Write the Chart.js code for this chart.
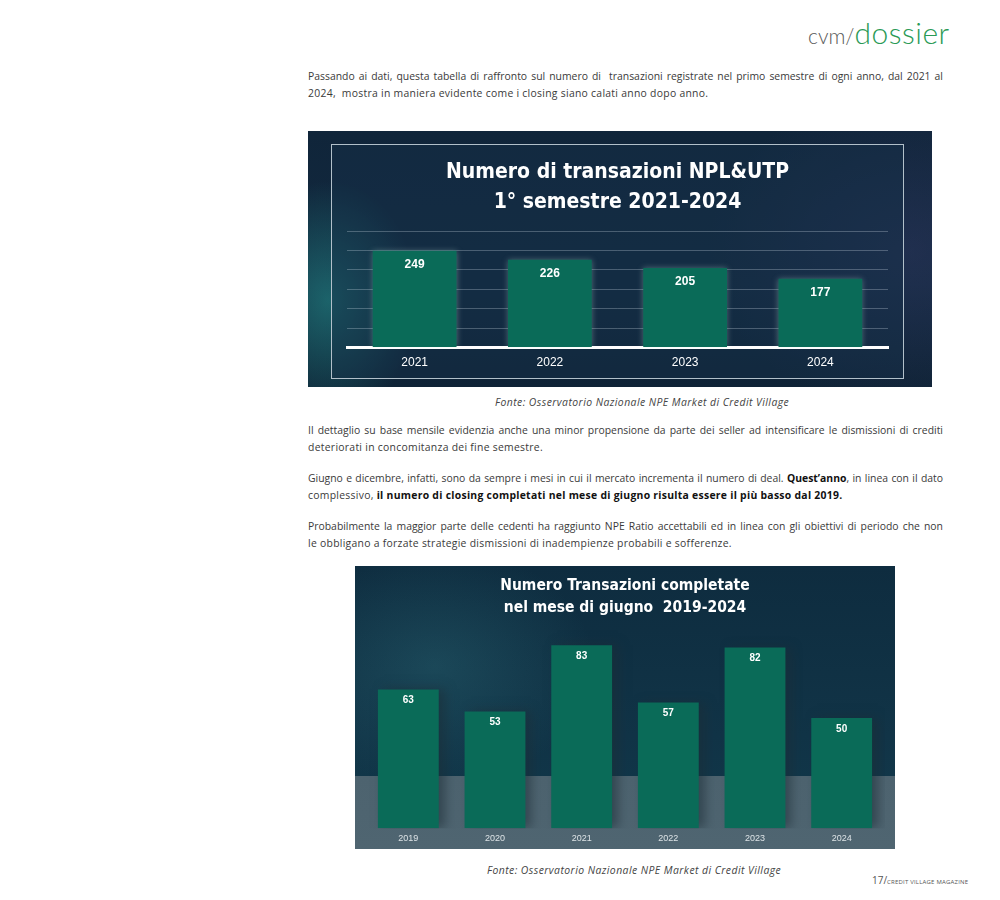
<!DOCTYPE html>
<html>
<head>
<meta charset="utf-8">
<script src="https://cdn.jsdelivr.net/npm/chart.js@4.4.1/dist/chart.umd.min.js"></script>
<style>
  body { margin: 0; background: #fff; width: 1000px; height: 900px; position: relative; overflow: hidden;
         font-family: "Open Sans", Lato, sans-serif; color: #3a3a3a; }
  .abs { position: absolute; }
  .logo { left: 808px; top: 14px; white-space: nowrap; font-family: Lato, sans-serif; }
  .logo .a { font-size: 21px; color: #5a5a5a; font-weight: 300; }
  .logo .b { font-size: 30px; color: #2a9a55; font-weight: 300; letter-spacing: 0.5px; }
  .para { left: 308px; width: 635px; font-size: 10.4px; line-height: 16.5px; }
  .para span { display: block; white-space: nowrap; letter-spacing: 0.28px; }
  .para span.j { text-align: justify; text-align-last: justify; white-space: normal; letter-spacing: 0; }
  .para b { font-weight: 700; color: #111; }
  .cap { font-size: 10.4px; font-style: italic; color: #444; white-space: nowrap; letter-spacing: 0.45px; }
  #box1 { left: 308px; top: 131px; width: 624px; height: 256px;
          background:
            radial-gradient(ellipse 90px 120px at 20px 170px, rgba(40,170,160,0.45), rgba(40,170,160,0) 100%),
            radial-gradient(ellipse 200px 160px at 600px 120px, rgba(60,60,110,0.35), rgba(60,60,110,0) 100%),
            linear-gradient(180deg, #10253a 0%, #12293f 60%, #0f2336 100%); }
  #inner1 { left: 23px; top: 13px; width: 571px; height: 233px; border: 1px solid #b2c0ca;
            background: rgba(22,48,74,0.45); }
  #box2 { left: 355px; top: 566px; width: 540px; height: 283px;
          background:
            linear-gradient(180deg, rgba(0,0,0,0) 0px, rgba(0,0,0,0) 210px, #4d636f 210px, #4f6571 283px),
            radial-gradient(ellipse 160px 120px at 80px 100px, rgba(60,140,150,0.25), rgba(60,140,150,0) 100%),
            linear-gradient(180deg, #0e2c3f 0%, #113447 60%, #123a4c 100%); }
  canvas { position: absolute; left: 0; top: 0; }
  .foot { left: 872px; top: 867px; white-space: nowrap; color: #555; }
  .foot .n { font-size: 10px; }
  .foot .m { font-size: 6px; letter-spacing: 0.2px; }
</style>
</head>
<body>
<div class="abs logo"><span class="a">cvm/</span><span class="b">dossier</span></div>

<div class="abs para" style="top:68px">
  <span class="j">Passando ai dati, questa tabella di raffronto sul numero di&nbsp; transazioni registrate nel primo semestre di ogni anno, dal 2021 al</span>
  <span>2024,&nbsp; mostra in maniera evidente come i closing siano calati anno dopo anno.</span>
</div>

<div class="abs" id="box1">
  <div class="abs" id="inner1"></div>
  <canvas id="chart1" width="624" height="256"></canvas>
</div>

<div class="abs cap" style="left:495px; top:395px">Fonte: Osservatorio Nazionale NPE Market di Credit Village</div>

<div class="abs para" style="top:422px">
  <span class="j">Il dettaglio su base mensile evidenzia anche una minor propensione da parte dei seller ad intensificare le dismissioni di crediti</span>
  <span>deteriorati in concomitanza dei fine semestre.</span>
</div>

<div class="abs para" style="top:470px">
  <span class="j">Giugno e dicembre, infatti, sono da sempre i mesi in cui il mercato incrementa il numero di deal. <b>Quest’anno</b>, in linea con il dato</span>
  <span>complessivo, <b>il numero di closing completati nel mese di giugno risulta essere il più basso dal 2019.</b></span>
</div>

<div class="abs para" style="top:518px">
  <span class="j">Probabilmente la maggior parte delle cedenti ha raggiunto NPE Ratio accettabili ed in linea con gli obiettivi di periodo che non</span>
  <span>le obbligano a forzate strategie dismissioni di inadempienze probabili e sofferenze.</span>
</div>

<div class="abs" id="box2">
  <canvas id="chart2" width="540" height="283"></canvas>
</div>

<div class="abs cap" style="left:487px; top:863px">Fonte: Osservatorio Nazionale NPE Market di Credit Village</div>
<div class="abs foot"><span class="n">17/</span><span class="m">CREDIT VILLAGE MAGAZINE</span></div>

<script>
// data
const semYears = ['2021', '2022', '2023', '2024'];
const semValues = [249, 226, 205, 177];
const semTitle = ['Numero di transazioni NPL&UTP', '1° semestre 2021-2024'];

const juneYears = ['2019', '2020', '2021', '2022', '2023', '2024'];
const juneValues = [63, 53, 83, 57, 82, 50];
const juneTitle = ['Numero Transazioni completate', 'nel mese di giugno  2019-2024'];

const barColor = '#0a6b58';
const narrow = "'DejaVu Sans', sans-serif";

// value written inside each bar, near its top
const valueLabels = {
    id: 'valueLabels',
    afterDatasetsDraw(chart, args, opts) {
        const ctx = chart.ctx;
        const meta = chart.getDatasetMeta(0);
        ctx.save();
        ctx.fillStyle = '#ffffff';
        ctx.font = 'bold ' + opts.size + 'px "Liberation Sans", Arial, sans-serif';
        ctx.textAlign = 'center';
        ctx.textBaseline = 'middle';
        meta.data.forEach(function (bar, i) {
            ctx.fillText(chart.data.datasets[0].data[i], bar.x, bar.y + opts.offset);
        });
        ctx.restore();
    }
};

// soft glow around bars
const barGlow = {
    id: 'barGlow',
    beforeDatasetsDraw(chart, args, opts) {
        chart.ctx.save();
        chart.ctx.shadowColor = opts.color;
        chart.ctx.shadowBlur = opts.blur;
        chart.ctx.shadowOffsetX = opts.dx || 0;
    },
    afterDatasetsDraw(chart) {
        chart.ctx.restore();
    }
};

new Chart(document.getElementById('chart1'), {
    type: 'bar',
    data: {
        labels: semYears,
        datasets: [{
            data: semValues,
            backgroundColor: barColor,
            barPercentage: 0.7,
            categoryPercentage: 0.885
        }]
    },
    options: {
        responsive: false,
        animation: false,
        layout: { padding: { left: 39, right: 44, top: 0, bottom: 9 } },
        plugins: {
            legend: { display: false },
            tooltip: { enabled: false },
            title: {
                display: true,
                text: semTitle,
                color: '#ffffff',
                font: { family: narrow, size: 21, weight: 'bold condensed', lineHeight: 1.43 },
                padding: { top: 27, bottom: 13 }
            },
            valueLabels: { size: 12, offset: 14 },
            barGlow: { color: 'rgba(200,230,220,0.35)', blur: 6 }
        },
        scales: {
            x: {
                grid: { display: false, drawTicks: false },
                border: { display: true, color: '#ffffff', width: 3 },
                ticks: { color: '#ffffff', padding: 8, font: { family: '"Liberation Sans", Arial, sans-serif', size: 12 } }
            },
            y: {
                min: 0,
                max: 300,
                ticks: { display: false, stepSize: 50 },
                border: { display: false },
                grid: { color: 'rgba(220,230,240,0.28)', lineWidth: 1, drawTicks: false }
            }
        }
    },
    plugins: [barGlow, valueLabels]
});

new Chart(document.getElementById('chart2'), {
    type: 'bar',
    data: {
        labels: juneYears,
        datasets: [{
            data: juneValues,
            backgroundColor: barColor,
            barPercentage: 0.78,
            categoryPercentage: 0.9
        }]
    },
    options: {
        responsive: false,
        animation: false,
        layout: { padding: { left: 10, right: 10, top: 0, bottom: 0 } },
        plugins: {
            legend: { display: false },
            tooltip: { enabled: false },
            title: {
                display: true,
                text: juneTitle,
                color: '#ffffff',
                font: { family: narrow, size: 15.5, weight: 'bold condensed', lineHeight: 1.48 },
                padding: { top: 8, bottom: 10 }
            },
            valueLabels: { size: 10, offset: 11 },
            barGlow: { color: 'rgba(30,45,55,0.55)', blur: 10, dx: 6 }
        },
        scales: {
            x: {
                grid: { display: false, drawTicks: false },
                border: { display: false },
                ticks: { color: '#dde3e6', padding: 5, font: { family: '"Liberation Sans", Arial, sans-serif', size: 9 } }
            },
            y: {
                display: false,
                min: 0,
                max: 90
            }
        }
    },
    plugins: [barGlow, valueLabels]
});
</script>
</body>
</html>
